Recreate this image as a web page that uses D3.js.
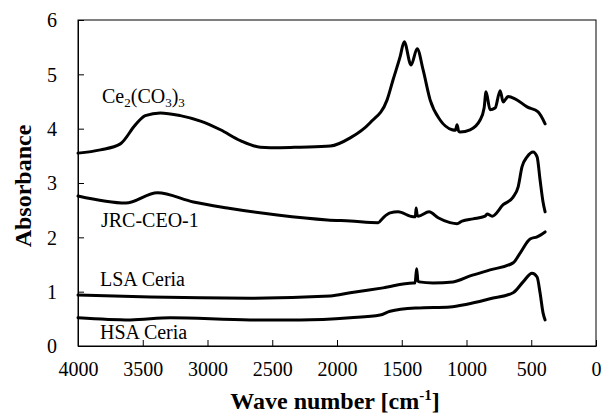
<!DOCTYPE html>
<html>
<head>
<meta charset="utf-8">
<style>
  body { margin: 0; background: #fff; }
</style>
<title>Absorbance</title>
</head>
<body>
<script src="https://cdn.jsdelivr.net/npm/d3@7/dist/d3.min.js"></script>
<script>

// wave numbers [cm-1] and absorbance
var ceWave = [4000, 3827, 3673, 3557, 3480, 3364, 3210, 3054, 2900, 2746, 2592, 2438, 2284, 2052, 1898, 1744, 1613, 1567, 1513, 1481, 1428, 1381, 1335, 1281, 1204, 1111, 1085, 1073, 1060, 1049, 972, 895, 864, 849, 818, 779, 740, 717, 679, 625, 532, 447, 393];
var ceAbs  = [3.55, 3.61, 3.72, 4.07, 4.24, 4.29, 4.24, 4.14, 3.98, 3.78, 3.66, 3.65, 3.66, 3.68, 3.83, 4.11, 4.53, 4.90, 5.32, 5.60, 5.17, 5.47, 5.08, 4.53, 4.16, 3.98, 3.97, 4.07, 3.95, 3.94, 3.98, 4.16, 4.38, 4.68, 4.35, 4.38, 4.70, 4.49, 4.59, 4.55, 4.40, 4.31, 4.09];

var jrcWave = [4000, 3631, 3387, 3109, 2847, 2461, 2075, 1898, 1682, 1644, 1590, 1528, 1412, 1395, 1389, 1380, 1373, 1289, 1219, 1127, 1073, 1034, 949, 856, 841, 802, 717, 640, 601, 571, 532, 486, 455, 432, 409, 393];
var jrcAbs  = [2.76, 2.63, 2.82, 2.65, 2.54, 2.41, 2.32, 2.30, 2.27, 2.36, 2.45, 2.47, 2.38, 2.38, 2.54, 2.40, 2.39, 2.47, 2.36, 2.27, 2.25, 2.30, 2.34, 2.39, 2.43, 2.39, 2.60, 2.74, 2.93, 3.30, 3.48, 3.57, 3.48, 3.06, 2.65, 2.47];

var lsaWave = [4000, 3441, 2670, 2052, 1898, 1644, 1412, 1397, 1385, 1375, 1366, 1258, 1104, 972, 818, 640, 586, 509, 455, 393];
var lsaAbs  = [0.94, 0.90, 0.88, 0.92, 0.98, 1.07, 1.16, 1.16, 1.42, 1.20, 1.18, 1.16, 1.18, 1.29, 1.40, 1.53, 1.71, 1.97, 2.01, 2.10];

var hsaWave = [4000, 3596, 3287, 2670, 2284, 1898, 1667, 1590, 1381, 1127, 996, 818, 640, 563, 494, 455, 432, 409, 393];
var hsaAbs  = [0.52, 0.48, 0.52, 0.48, 0.48, 0.52, 0.57, 0.64, 0.70, 0.72, 0.77, 0.87, 0.98, 1.18, 1.34, 1.27, 0.98, 0.61, 0.48];

var xTicks = [4000, 3500, 3000, 2500, 2000, 1500, 1000, 500, 0];
var yTicks = [0, 1, 2, 3, 4, 5, 6];

var width = 603,
    height = 416,
    margin = {top: 20, right: 7, bottom: 70, left: 78},
    plotW = width - margin.left - margin.right,
    plotH = height - margin.top - margin.bottom;

var svg = d3.select("body").append("svg")
    .attr("width", width)
    .attr("height", height)
    .attr("font-family", "Liberation Serif");

var g = svg.append("g").attr("transform", "translate(" + margin.left + "," + margin.top + ")");

var x = d3.scaleLinear().domain([4000, 0]).range([0, plotW]);
var y = d3.scaleLinear().domain([0, 6]).range([plotH, 0]);

// frame
g.append("rect")
    .attr("width", plotW)
    .attr("height", plotH)
    .attr("fill", "none")
    .attr("stroke", "#000")
    .attr("stroke-width", 1);

// axes, ticks pointing inwards
var xAxis = g.append("g")
    .attr("transform", "translate(0," + plotH + ")")
    .call(d3.axisBottom(x).tickValues(xTicks).tickFormat(d3.format("d"))
      .tickSizeInner(-6).tickSizeOuter(0).tickPadding(16));

var yAxis = g.append("g")
    .call(d3.axisLeft(y).tickValues(yTicks).tickFormat(d3.format("d"))
      .tickSizeInner(-6).tickSizeOuter(0).tickPadding(21));

[xAxis, yAxis].forEach(function(a) {
  a.attr("font-family", null).attr("font-size", 20);
  a.selectAll("text").attr("fill", "#000");
  a.selectAll("line").attr("stroke", "#000");
  a.select(".domain").attr("stroke", "#000");
});
yAxis.selectAll("text").attr("dy", "0.34em");

// curves
var line = d3.line()
    .x(function(d) { return x(d[0]); })
    .y(function(d) { return y(d[1]); })
    .curve(d3.curveMonotoneX);

var series = [
  {wave: ceWave, abs: ceAbs},
  {wave: jrcWave, abs: jrcAbs},
  {wave: lsaWave, abs: lsaAbs},
  {wave: hsaWave, abs: hsaAbs}
];

g.selectAll("path.curve")
    .data(series)
    .enter()
    .append("path")
    .attr("class", "curve")
    .attr("fill", "none")
    .attr("stroke", "#000")
    .attr("stroke-width", 3)
    .attr("stroke-linejoin", "round")
    .attr("stroke-linecap", "round")
    .attr("d", function(s) { return line(d3.zip(s.wave, s.abs)); });

// curve labels
var ce = svg.append("text")
    .attr("x", 102)
    .attr("y", 103)
    .attr("font-size", 20);
ce.append("tspan").text("Ce");
ce.append("tspan").attr("dy", 4).attr("font-size", 13).text("2");
ce.append("tspan").attr("dy", -4).text("(CO");
ce.append("tspan").attr("dy", 4).attr("font-size", 13).text("3");
ce.append("tspan").attr("dy", -4).text(")");
ce.append("tspan").attr("dy", 4).attr("font-size", 13).text("3");

svg.append("text").attr("x", 101).attr("y", 227).attr("font-size", 20).text("JRC-CEO-1");
svg.append("text").attr("x", 100).attr("y", 286).attr("font-size", 20).text("LSA  Ceria");
svg.append("text").attr("x", 100).attr("y", 339).attr("font-size", 20).text("HSA  Ceria");

// axis titles
var xt = svg.append("text")
    .attr("x", 335)
    .attr("y", 409)
    .attr("text-anchor", "middle")
    .attr("font-size", 24)
    .attr("font-weight", "bold");
xt.append("tspan").text("Wave number [cm");
xt.append("tspan").attr("dy", -9).attr("font-size", 15).text("-1");
xt.append("tspan").attr("dy", 9).text("]");

svg.append("text")
    .attr("transform", "translate(31,186) rotate(-90)")
    .attr("text-anchor", "middle")
    .attr("font-size", 24)
    .attr("font-weight", "bold")
    .text("Absorbance");

</script>
</body>
</html>
